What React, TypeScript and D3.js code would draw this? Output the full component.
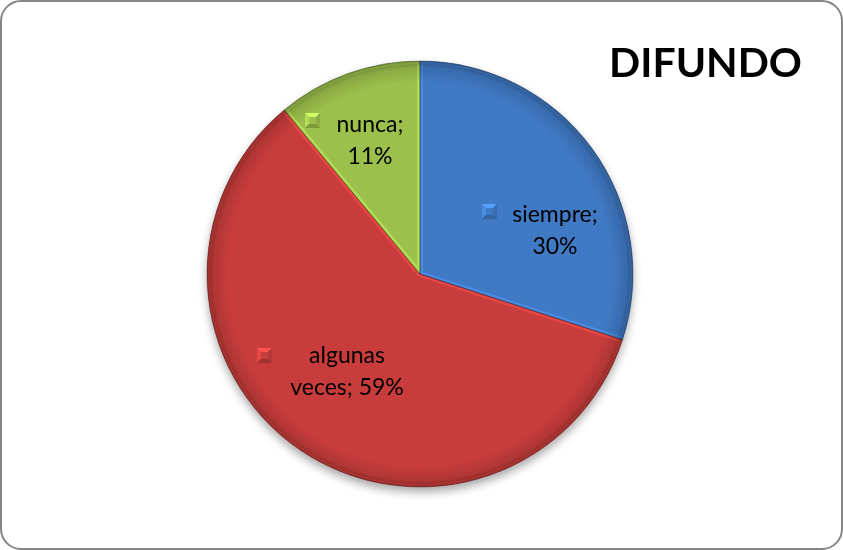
import React from "react";
import * as d3 from "d3";

const categories = ["siempre", "algunas veces", "nunca"];
const percentages = [30, 59, 11];
const colors = ["#3F79C4", "#C83E3B", "#9BC04B"];
const labelLines = [
  ["siempre;", "30%"],
  ["algunas", "veces; 59%"],
  ["nunca;", "11%"],
];
const title = "DIFUNDO";

const W = 843;
const H = 550;
const cx = 420;
const cy = 274;
const R = 213;
const FONT = "Lato, 'Open Sans', 'Noto Sans', sans-serif";

// label layout relative to pie centre: text centre x, first baseline y, marker position
const labelLayout = [
  { dx: 135, dy: -52, mx: 62, my: -70 },
  { dx: -73, dy: 89, mx: -163, my: 74 },
  { dx: -50, dy: -142, mx: -115, my: -161 },
];

function Marker({ x, y, color }: { x: number; y: number; color: string }) {
  const s = 15;
  const c = d3.color(color)!;
  const light = c.brighter(0.8).formatHex();
  const lighter = c.brighter(0.4).formatHex();
  const dark = c.darker(0.6).formatHex();
  const darker = c.darker(0.3).formatHex();
  const i = 4;
  return (
    <g>
      <polygon points={`${x},${y} ${x + s},${y} ${x + s - i},${y + i} ${x + i},${y + i}`} fill={light} />
      <polygon points={`${x},${y} ${x + i},${y + i} ${x + i},${y + s - i} ${x},${y + s}`} fill={lighter} />
      <polygon points={`${x + s},${y} ${x + s},${y + s} ${x + s - i},${y + s - i} ${x + s - i},${y + i}`} fill={darker} />
      <polygon points={`${x},${y + s} ${x + i},${y + s - i} ${x + s - i},${y + s - i} ${x + s},${y + s}`} fill={dark} />
      <rect x={x + i} y={y + i} width={s - 2 * i} height={s - 2 * i} fill={color} />
    </g>
  );
}

export default function App() {
  const pie = d3
    .pie<number>()
    .sort(null)
    .startAngle(0)
    .endAngle(2 * Math.PI)
    .value((d) => d);
  const arcs = pie(percentages);
  const arc = d3.arc<d3.PieArcDatum<number>>().innerRadius(0).outerRadius(R);

  return (
    <div style={{ position: "fixed", left: 0, top: 0, width: W, height: H }}>
      <svg width={W} height={H} style={{ display: "block" }}>
        <defs>
          <filter id="shadow" x="-20%" y="-20%" width="140%" height="140%">
            <feGaussianBlur in="SourceAlpha" stdDeviation="5" />
            <feOffset dx="0" dy="5" result="b" />
            <feComponentTransfer>
              <feFuncA type="linear" slope="0.35" />
            </feComponentTransfer>
            <feMerge>
              <feMergeNode />
              <feMergeNode in="SourceGraphic" />
            </feMerge>
          </filter>
          <radialGradient id="rim" cx={cx} cy={cy} r={R} gradientUnits="userSpaceOnUse">
            <stop offset="0.9" stopColor="#000" stopOpacity="0" />
            <stop offset="0.97" stopColor="#000" stopOpacity="0.12" />
            <stop offset="1" stopColor="#000" stopOpacity="0.35" />
          </radialGradient>
          {arcs.map((a, i) => (
            <clipPath id={`clip${i}`} key={i}>
              <path d={arc(a)!} transform={`translate(${cx},${cy})`} />
            </clipPath>
          ))}
        </defs>
        <rect x={1} y={1} width={W - 2} height={H - 2} rx={20} ry={20} fill="#fff" stroke="#868686" strokeWidth={2} />
        <g filter="url(#shadow)">
          <g transform={`translate(${cx},${cy})`}>
            {arcs.map((a, i) => (
              <path key={categories[i]} d={arc(a)!} fill={colors[i]} />
            ))}
          </g>
        </g>
        {arcs.map((a, i) => (
          <g key={`bevel${i}`} clipPath={`url(#clip${i})`}>
            <path
              d={arc(a)!}
              transform={`translate(${cx},${cy})`}
              fill="none"
              stroke={d3.color(colors[i])!.brighter(0.6).formatHex()}
              strokeOpacity={0.6}
              strokeWidth={6}
            />
          </g>
        ))}
        <circle cx={cx} cy={cy} r={R} fill="url(#rim)" />
        <g transform={`translate(${cx},${cy})`}>
          {arcs.map((a, i) => (
            <path key={`edge${i}`} d={arc(a)!} fill="none" stroke="#000" strokeOpacity={0.35} strokeWidth={0.8} />
          ))}
        </g>
        {arcs.map((a, i) => {
          const L = labelLayout[i];
          return (
            <g key={`lab${i}`} fontFamily={FONT} fontSize={23} fill="#000">
              <Marker x={cx + L.mx} y={cy + L.my} color={colors[i]} />
              {labelLines[i].map((t, j) => (
                <text key={j} x={cx + L.dx} y={cy + L.dy + j * 32} textAnchor="middle">
                  {t}
                </text>
              ))}
            </g>
          );
        })}
        <text x={802} y={77} textAnchor="end" fontFamily={FONT} fontWeight="bold" fontSize={41} fill="#000">
          {title}
        </text>
      </svg>
    </div>
  );
}
